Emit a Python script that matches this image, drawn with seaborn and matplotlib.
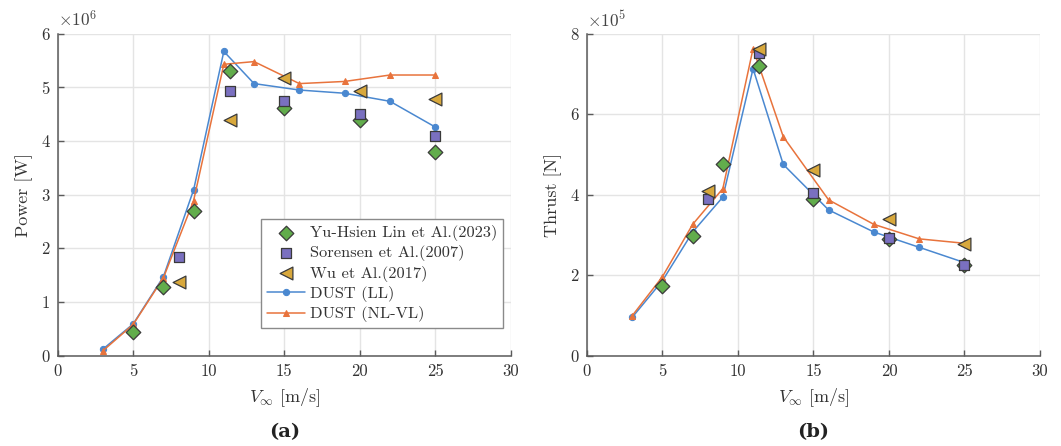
import numpy as np
import pandas as pd
import matplotlib
matplotlib.use("Agg")
import matplotlib.pyplot as plt
import seaborn as sns
from matplotlib.ticker import FuncFormatter, MultipleLocator

# ---------------- data ----------------
V_dust = [3, 5, 7, 9, 11, 13, 16, 19, 22, 25]
P_LL = [0.12, 0.59, 1.47, 3.09, 5.67, 5.07, 4.95, 4.89, 4.74, 4.26]   # x1e6 W
P_NL = [0.09, 0.58, 1.45, 2.89, 5.43, 5.48, 5.07, 5.11, 5.23, 5.23]   # x1e6 W
T_LL = [0.95, 1.86, 3.07, 3.94, 7.13, 4.75, 3.62, 3.07, 2.69, 2.31]   # x1e5 N
T_NL = [0.99, 1.96, 3.26, 4.15, 7.63, 5.44, 3.87, 3.26, 2.90, 2.79]   # x1e5 N

V_lin = [5, 7, 9, 11.4, 15, 20, 25]
P_lin = [0.43, 1.27, 2.69, 5.31, 4.62, 4.40, 3.79]
T_lin = [1.73, 2.97, 4.76, 7.19, 3.89, 2.90, 2.26]

V_sor = [8, 11.4, 15, 20, 25]
P_sor = [1.83, 4.94, 4.74, 4.51, 4.10]
T_sor = [3.90, 7.52, 4.03, 2.92, 2.24]

V_wu = [8, 11.4, 15, 20, 25]
P_wu = [1.37, 4.39, 5.17, 4.93, 4.78]
T_wu = [4.10, 7.63, 4.61, 3.40, 2.77]

labels = ["Yu-Hsien Lin et Al.(2023)", "Sorensen et Al.(2007)", "Wu et Al.(2017)",
          "DUST (LL)", "DUST (NL-VL)"]

# ---------------- style ----------------
sns.set_theme(style="white")
plt.rcParams["font.family"] = ["cmr10", "DejaVu Serif"]
plt.rcParams["mathtext.fontset"] = "cm"
plt.rcParams["axes.unicode_minus"] = False
plt.rcParams["axes.formatter.use_mathtext"] = True

C_LL = "#4a88d0"
C_NL = "#e8733c"
C_GREEN = "#62ad4c"
C_PURP = "#7a70c0"
C_YEL = "#d8a83c"
EDGE = "#3a3a3a"
GRID = "#e4e4e4"
AX = "#5a5a5a"

fig = plt.figure(figsize=(10.61, 4.46), dpi=100)
axL = fig.add_axes([0.0544, 0.2029, 0.4270, 0.7215])
axR = fig.add_axes([0.5532, 0.2029, 0.4270, 0.7215])


def draw(ax, yLL, yNL, ylin, ysor, ywu):
    sns.lineplot(x=V_dust, y=yLL, ax=ax, color=C_LL, marker="o", markersize=4.5,
                 markeredgecolor=C_LL, linewidth=1.1, sort=False, estimator=None,
                 label=labels[3], zorder=2)
    sns.lineplot(x=V_dust, y=yNL, ax=ax, color=C_NL, marker="^", markersize=4.5,
                 markeredgecolor=C_NL, linewidth=1.1, sort=False, estimator=None,
                 label=labels[4], zorder=2)
    sns.scatterplot(x=V_lin, y=ylin, ax=ax, marker="D", s=55, color=C_GREEN,
                    edgecolor=EDGE, linewidth=0.9, label=labels[0], zorder=3)
    sns.scatterplot(x=V_sor, y=ysor, ax=ax, marker="s", s=58, color=C_PURP,
                    edgecolor=EDGE, linewidth=0.9, label=labels[1], zorder=3)
    sns.scatterplot(x=V_wu, y=ywu, ax=ax, marker="<", s=85, color=C_YEL,
                    edgecolor=EDGE, linewidth=0.9, label=labels[2], zorder=3)


def style(ax, ymax, ystep, ylabel, expo, tag):
    ax.set_xlim(0, 30)
    ax.set_ylim(0, ymax)
    ax.xaxis.set_major_locator(MultipleLocator(5))
    ax.yaxis.set_major_locator(MultipleLocator(ystep))
    fmt = FuncFormatter(lambda v, p: "%d" % round(v))
    ax.xaxis.set_major_formatter(fmt)
    ax.yaxis.set_major_formatter(fmt)
    ax.grid(True, color=GRID, linewidth=1.0)
    ax.set_axisbelow(True)
    for s in ["top", "right"]:
        ax.spines[s].set_visible(False)
    for s in ["left", "bottom"]:
        ax.spines[s].set_color(AX)
        ax.spines[s].set_linewidth(1.1)
    ax.tick_params(direction="in", length=4, width=1.0, color=AX,
                   labelsize=12, labelcolor="#333333", pad=6,
                   left=True, bottom=True)
    ax.set_xlabel(r"$V_\infty$ [m/s]", fontsize=13, color="#333333", labelpad=5)
    ax.set_ylabel(ylabel, fontsize=13, color="#333333", labelpad=6)
    ax.text(0.0, 1.012, r"$\times 10^{%d}$" % expo, transform=ax.transAxes,
            ha="left", va="bottom", fontsize=12.5, color="#444444")
    ax.text(0.5, -0.238, tag, transform=ax.transAxes, ha="center", va="center",
            fontsize=14, fontweight="bold", family=["DejaVu Serif"], color="#222222")


draw(axL, P_LL, P_NL, P_lin, P_sor, P_wu)
draw(axR, T_LL, T_NL, T_lin, T_sor, T_wu)
style(axL, 6, 1, "Power [W]", 6, "(a)")
style(axR, 8, 2, "Thrust [N]", 5, "(b)")

handles, labs = axL.get_legend_handles_labels()
order = [labs.index(l) for l in labels]
leg = axL.legend([handles[i] for i in order], [labs[i] for i in order],
                 loc="lower right", bbox_to_anchor=(0.9823, 0.0855),
                 fontsize=11.8, frameon=True, fancybox=False, framealpha=1,
                 edgecolor="#8a8a8a", handlelength=2.3, handletextpad=0.3,
                 labelspacing=0.26, borderpad=0.35, borderaxespad=0)
leg.get_frame().set_linewidth(1.0)
for t in leg.get_texts():
    t.set_color("#333333")
if axR.get_legend() is not None:
    axR.get_legend().remove()

fig.savefig("out.png", dpi=100)
